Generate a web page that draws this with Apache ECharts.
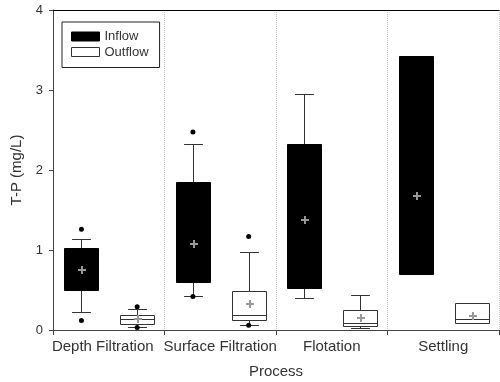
<!DOCTYPE html>
<html>
<head>
<meta charset="utf-8">
<script src="https://cdn.jsdelivr.net/npm/echarts@6/dist/echarts.min.js"></script>
<style>
  html, body { margin: 0; padding: 0; background: #fff; }
  #chart { width: 500px; height: 382px; }
</style>
</head>
<body>
<div id="chart"></div>
<script>
const processes = ["Depth Filtration", "Surface Filtration", "Flotation", "Settling"];
const yTicks = [0, 1, 2, 3, 4];

// inflow boxes (null = not drawn)
const inflowLow = [0.225, 0.42, 0.40, null];
const inflowQ1 = [0.50, 0.60, 0.53, 0.70];
const inflowMedian = [null, null, null, null];
const inflowQ3 = [1.02, 1.85, 2.33, 3.43];
const inflowHigh = [1.14, 2.33, 2.95, null];
const inflowMean = [0.75, 1.08, 1.375, 1.68];
const inflowOutliers = [[0, 1.26], [0, 0.12], [1, 2.475], [1, 0.42]];

// outflow boxes
const outflowLow = [0.04, 0.06, 0.02, null];
const outflowQ1 = [0.08, 0.125, 0.055, 0.085];
const outflowMedian = [0.135, 0.19, 0.09, 0.135];
const outflowQ3 = [0.19, 0.49, 0.25, 0.34];
const outflowHigh = [0.26, 0.97, 0.44, null];
const outflowMean = [0.14, 0.325, 0.15, 0.18];
const outflowOutliers = [[0, 0.29], [0, 0.03], [1, 1.17], [1, 0.06]];

const FONT = "'Liberation Sans', Arial, sans-serif";
const TXT = "#333";

function rows(low, q1, med, q3, high, mean) {
  return processes.map((p, i) => [i, low[i], q1[i], med[i], q3[i], high[i], mean[i]]);
}

const px = v => Math.round(v) + 0.5;

function boxRenderer(offset, fill, stroke) {
  return function (params, api) {
    const i = api.value(0);
    const band = api.size([1, 0])[0];
    const cx = px(api.coord([i, 0])[0] + offset * band);
    const w = band * 0.307;
    const capW = w * 0.55;
    const y = v => px(api.coord([i, v])[1]);
    const low = api.value(1), q1 = api.value(2), med = api.value(3),
      q3 = api.value(4), high = api.value(5), mean = api.value(6);
    const line = { stroke: "#333", lineWidth: 1 };
    const kids = [];
    if (!isNaN(high)) {
      kids.push({ type: "line", shape: { x1: cx, y1: y(high), x2: cx, y2: y(q3) }, style: line });
      kids.push({ type: "line", shape: { x1: cx - capW / 2, y1: y(high), x2: cx + capW / 2, y2: y(high) }, style: line });
    }
    if (!isNaN(low)) {
      kids.push({ type: "line", shape: { x1: cx, y1: y(low), x2: cx, y2: y(q1) }, style: line });
      kids.push({ type: "line", shape: { x1: cx - capW / 2, y1: y(low), x2: cx + capW / 2, y2: y(low) }, style: line });
    }
    kids.push({
      type: "rect",
      shape: { x: px(cx - w / 2), y: y(q3), width: Math.round(w), height: y(q1) - y(q3) },
      style: { fill: fill, stroke: stroke, lineWidth: 1 }
    });
    if (!isNaN(med)) {
      kids.push({ type: "line", shape: { x1: px(cx - w / 2), y1: y(med), x2: px(cx - w / 2) + Math.round(w), y2: y(med) }, style: line });
    }
    const my = Math.round(api.coord([i, mean])[1]);
    const mx = Math.round(cx);
    kids.push({ type: "rect", shape: { x: mx - 4, y: my - 1, width: 8, height: 2 }, style: { fill: "#999" } });
    kids.push({ type: "rect", shape: { x: mx - 1, y: my - 4, width: 2, height: 8 }, style: { fill: "#999" } });
    return { type: "group", children: kids };
  };
}

function dotRenderer(offset) {
  return function (params, api) {
    const band = api.size([1, 0])[0];
    const p = api.coord([api.value(0), api.value(1)]);
    return {
      type: "circle",
      shape: { cx: p[0] + offset * band, cy: p[1], r: 2.5 },
      style: { fill: "#000" }
    };
  };
}

const chart = echarts.init(document.getElementById("chart"));

chart.setOption({
  animation: false,
  textStyle: { fontFamily: FONT },
  grid: { left: 53, right: 1, top: 10, bottom: 52, containLabel: false, outerBoundsMode: "none" },
  legend: {
    orient: "vertical",
    left: 62,
    top: 22,
    padding: [8, 11, 9, 9],
    itemWidth: 28,
    itemHeight: 9,
    itemGap: 2.5,
    borderColor: "#222",
    borderWidth: 1,
    selectedMode: false,
    textStyle: { fontFamily: FONT, fontSize: 13, color: TXT },
    data: [
      { name: "Inflow", icon: "rect", itemStyle: { color: "#000", borderColor: "#000", borderWidth: 1 } },
      { name: "Outflow", icon: "rect", itemStyle: { color: "#fff", borderColor: "#333", borderWidth: 1 } }
    ]
  },
  xAxis: [
    {
      type: "category",
      data: processes,
      boundaryGap: true,
      axisLine: { lineStyle: { color: "#444" } },
      axisTick: { show: true, length: 5, lineStyle: { color: "#444" } },
      axisLabel: {
        interval: 0,
        fontSize: 15,
        color: TXT,
        margin: 9,
        formatter: (v, i) => (i === 0 ? "{d|" + v + "}" : v),
        rich: { d: { fontSize: 15, color: TXT, fontFamily: FONT, padding: [0, 12, 0, 0] } }
      },
      splitLine: { show: true, lineStyle: { type: "dotted", color: "#c8c8c8" } },
      name: "Process",
      nameLocation: "middle",
      nameGap: 34,
      nameTextStyle: { fontSize: 15, color: TXT }
    },
    {
      type: "category",
      position: "top",
      data: processes,
      axisLine: { lineStyle: { color: "#000" } },
      axisTick: { show: false },
      axisLabel: { show: false },
      splitLine: { show: false }
    }
  ],
  yAxis: {
    type: "value",
    min: yTicks[0],
    max: yTicks[yTicks.length - 1],
    interval: yTicks[1] - yTicks[0],
    axisLine: { show: true, lineStyle: { color: "#444" } },
    axisTick: { show: true, length: 4, lineStyle: { color: "#444" } },
    axisLabel: { fontSize: 13, color: TXT, margin: 10 },
    splitLine: { show: false },
    name: "T-P (mg/L)",
    nameLocation: "middle",
    nameGap: 29,
    nameTextStyle: { fontSize: 15, color: TXT }
  },
  series: [
    {
      name: "Inflow",
      type: "custom",
      xAxisIndex: 0,
      renderItem: boxRenderer(-0.245, "#000", "#000"),
      encode: { x: 0, y: [1, 2, 3, 4, 5, 6] },
      data: rows(inflowLow, inflowQ1, inflowMedian, inflowQ3, inflowHigh, inflowMean)
    },
    {
      name: "Outflow",
      type: "custom",
      xAxisIndex: 0,
      renderItem: boxRenderer(0.255, "#fff", "#333"),
      encode: { x: 0, y: [1, 2, 3, 4, 5, 6] },
      data: rows(outflowLow, outflowQ1, outflowMedian, outflowQ3, outflowHigh, outflowMean)
    },
    {
      name: "Inflow",
      type: "custom",
      xAxisIndex: 0,
      renderItem: dotRenderer(-0.245),
      encode: { x: 0, y: 1 },
      data: inflowOutliers
    },
    {
      name: "Outflow",
      type: "custom",
      xAxisIndex: 0,
      renderItem: dotRenderer(0.255),
      encode: { x: 0, y: 1 },
      data: outflowOutliers
    }
  ]
});
</script>
</body>
</html>
